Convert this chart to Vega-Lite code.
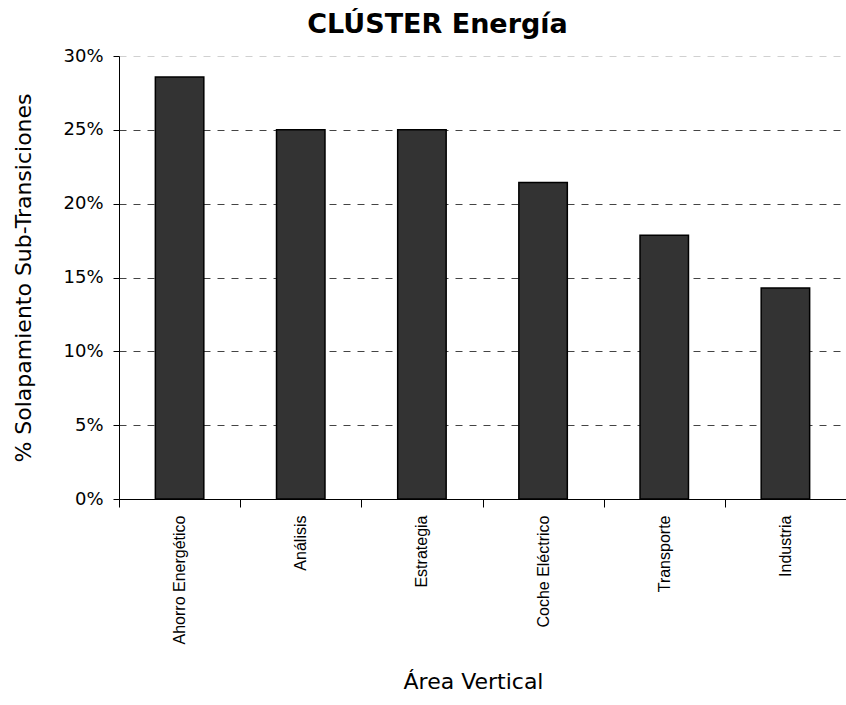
{
  "$schema": "https://vega.github.io/schema/vega-lite/v6.json",
  "autosize": "none",
  "width": 727,
  "height": 443,
  "padding": {"left": 119, "top": 56, "right": 0, "bottom": 206},
  "background": "white",
  "config": {
    "view": {"stroke": null},
    "font": "DejaVu Sans"
  },
  "title": {
    "text": "CLÚSTER Energía",
    "font": "DejaVu Sans",
    "fontSize": 27,
    "fontWeight": "bold",
    "color": "black",
    "anchor": "middle",
    "dx": -45,
    "offset": 8
  },
  "data": {
    "values": [
      {"area": "Ahorro Energético", "pct": 0.2857},
      {"area": "Análisis", "pct": 0.25},
      {"area": "Estrategia", "pct": 0.25},
      {"area": "Coche Eléctrico", "pct": 0.2143},
      {"area": "Transporte", "pct": 0.1786},
      {"area": "Industria", "pct": 0.1429}
    ]
  },
  "mark": {"type": "bar", "fill": "#333333", "stroke": "black", "strokeWidth": 1.5, "width": {"band": 0.4}},
  "encoding": {
    "x": {
      "field": "area",
      "type": "nominal",
      "sort": null,
      "scale": {"paddingInner": 0, "paddingOuter": 0},
      "axis": {
        "title": "Área Vertical",
        "titleFont": "DejaVu Sans",
        "titleFontSize": 22,
        "titleFontWeight": "normal",
        "titleColor": "black",
        "titlePadding": 28,
        "titleX": 354,
        "labelAngle": -90,
        "labelAlign": "right",
        "labelBaseline": "middle",
        "labelFontSize": 16,
        "labelColor": "black",
        "labelPadding": 8,
        "labelFont": "Liberation Sans",
        "tickBand": "extent",
        "tickSize": 8,
        "tickColor": "black",
        "domainColor": "black"
      }
    },
    "y": {
      "field": "pct",
      "type": "quantitative",
      "scale": {"domain": [0, 0.3], "nice": false},
      "axis": {
        "title": "% Solapamiento Sub-Transiciones",
        "titleFont": "DejaVu Sans",
        "titleFontSize": 22,
        "titleFontWeight": "normal",
        "titleColor": "black",
        "titlePadding": 27,
        "values": [0, 0.05, 0.1, 0.15, 0.2, 0.25, 0.3],
        "format": ".0%",
        "labelFontSize": 18,
        "labelColor": "black",
        "labelPadding": 10,
        "labelFont": "DejaVu Sans",
        "tickSize": 6,
        "tickColor": "black",
        "domainColor": "black",
        "grid": true,
        "gridDash": [7, 7],
        "gridColor": {"condition": {"test": "datum.value >= 0.3", "value": "#d0d0d0"}, "value": "#444444"},
        "gridWidth": 1
      }
    }
  }
}
